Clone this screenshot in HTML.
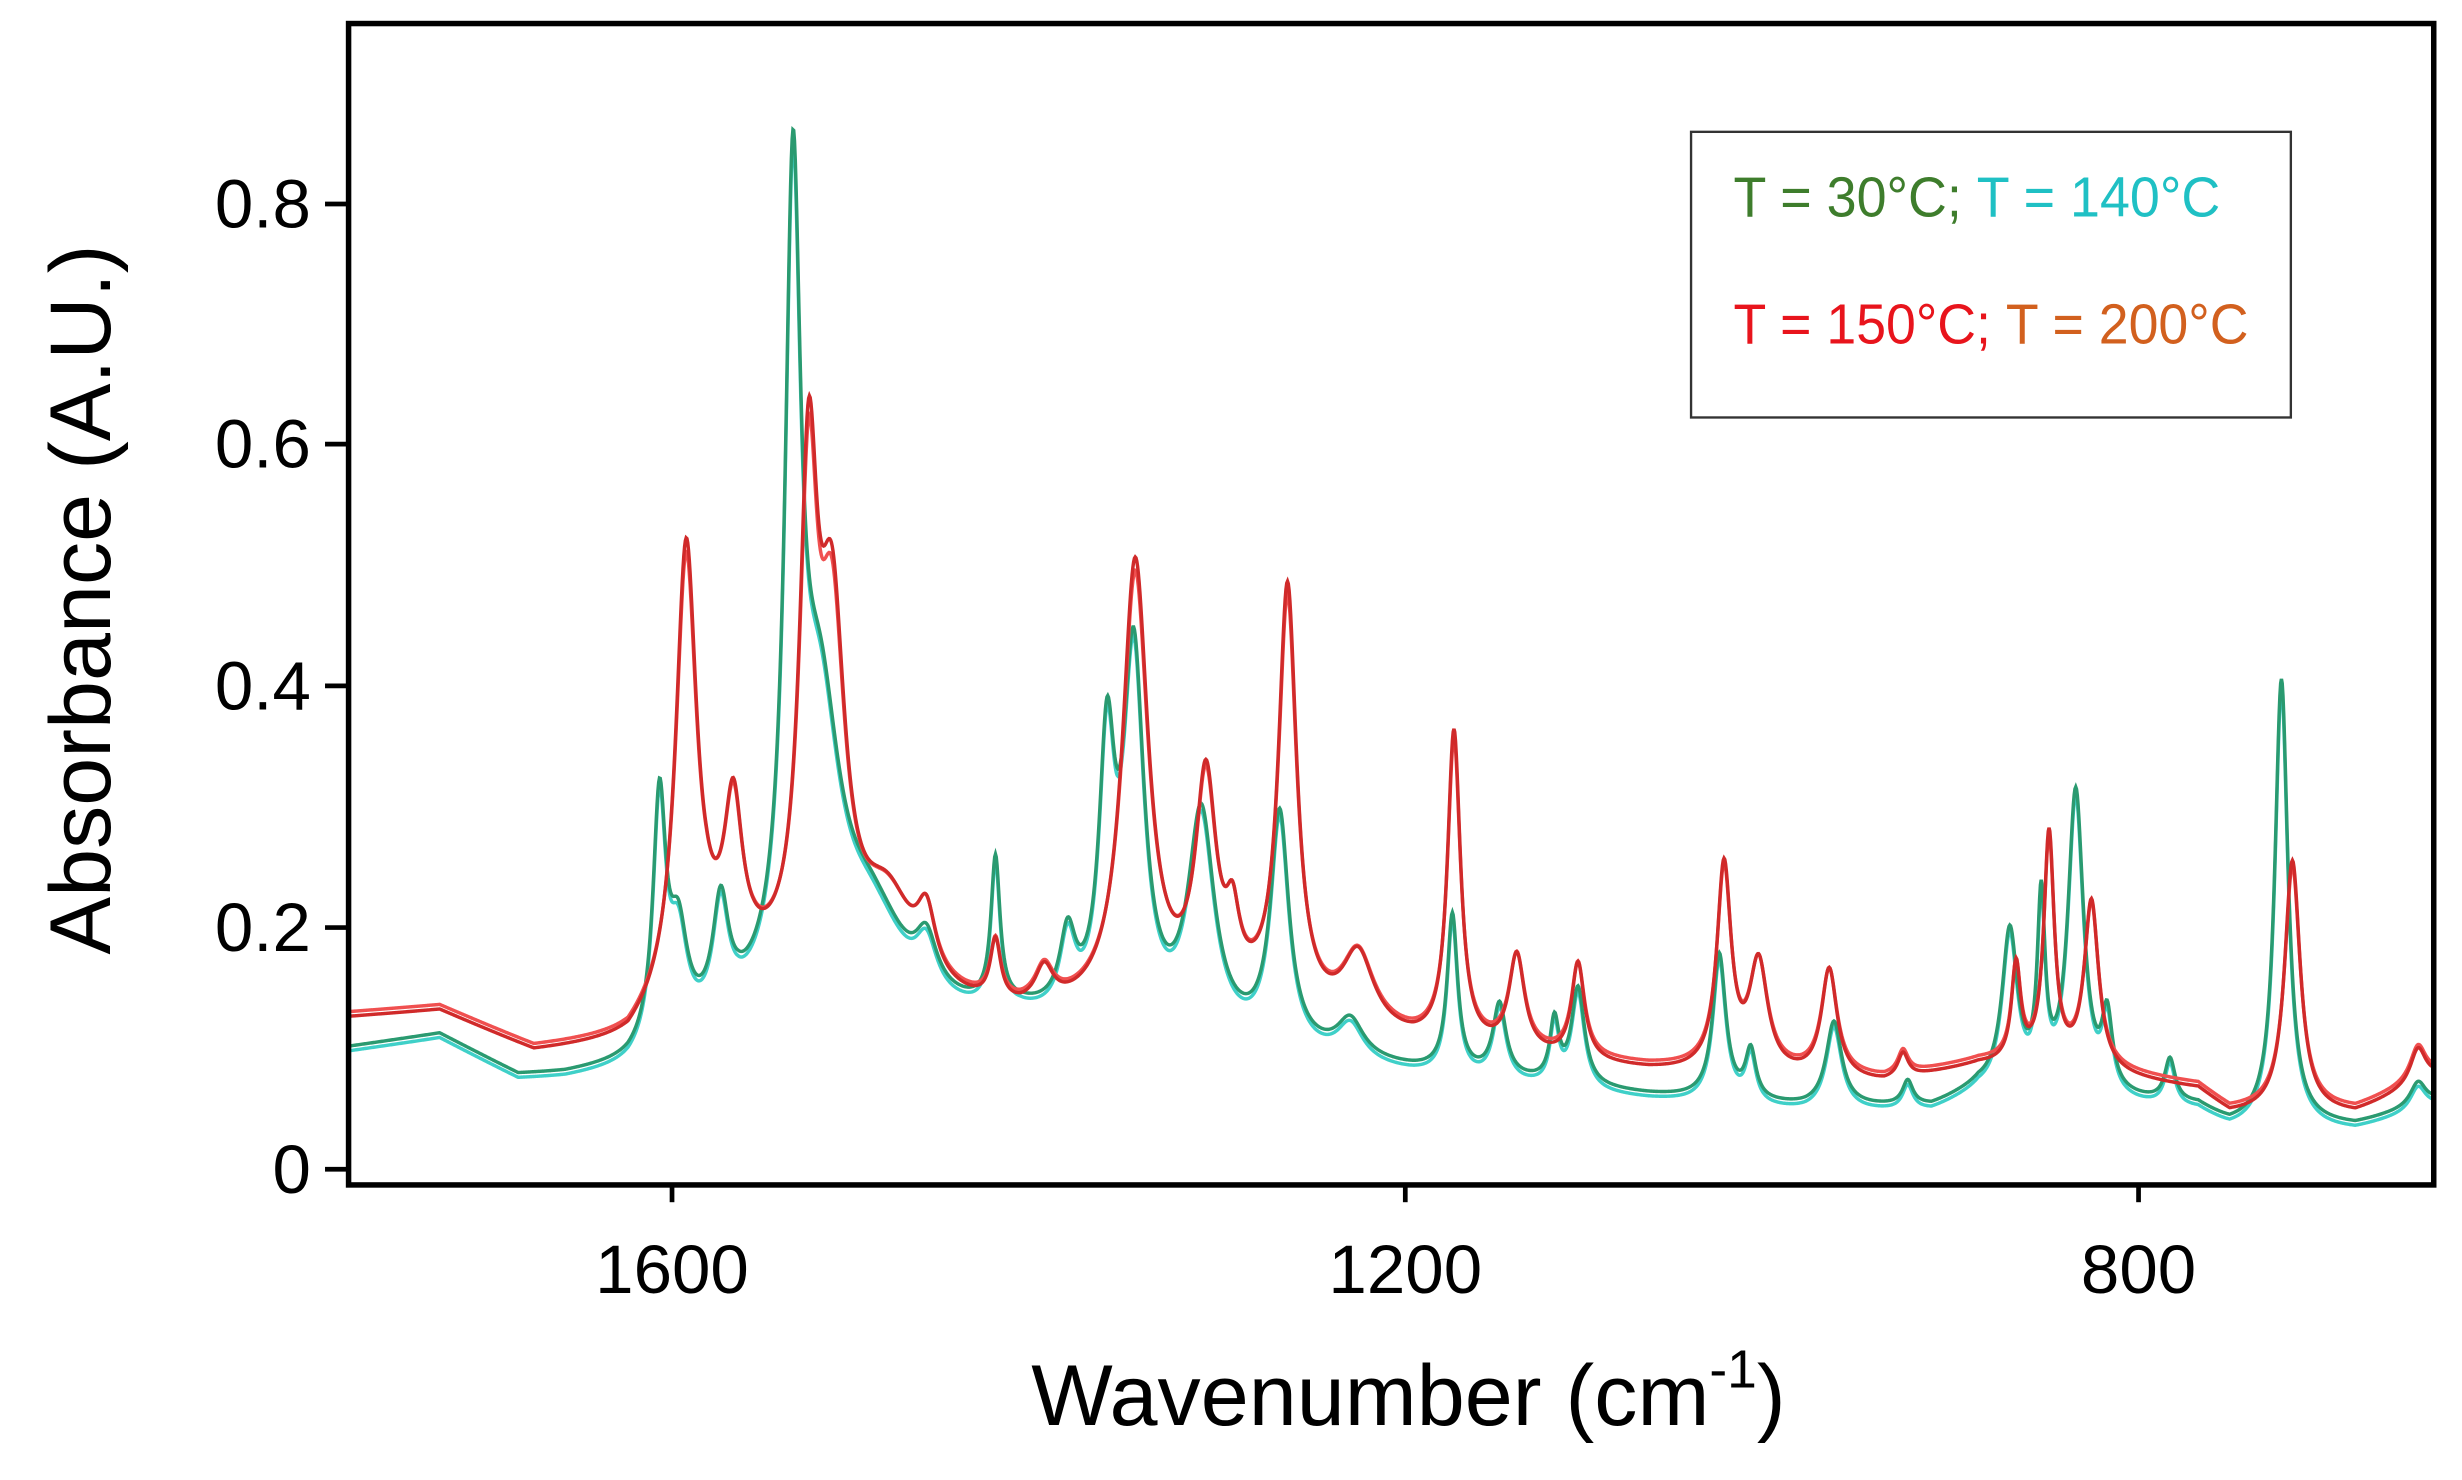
<!DOCTYPE html>
<html><head><meta charset="utf-8"><style>
html,body{margin:0;padding:0;background:#fff;}
svg{display:block;}
</style></head><body>
<svg id="s" width="2462" height="1480" viewBox="0 0 1568 943" preserveAspectRatio="none" xmlns="http://www.w3.org/2000/svg">
<defs><clipPath id="c"><rect x="222" y="15" width="1328" height="740"/></clipPath></defs>
<rect x="0" y="0" width="1568" height="943" fill="#fff"/>
<g id="curves" clip-path="url(#c)" fill="none" stroke-width="2.2"></g>
<rect x="222" y="15" width="1328" height="740" fill="none" stroke="#000" stroke-width="3.5"/>
<g stroke="#000" stroke-width="3">
<line x1="207" y1="745" x2="222" y2="745"/><line x1="207" y1="591" x2="222" y2="591"/>
<line x1="207" y1="437" x2="222" y2="437"/><line x1="207" y1="283" x2="222" y2="283"/>
<line x1="207" y1="130" x2="222" y2="130"/>
<line x1="428" y1="755" x2="428" y2="766"/><line x1="895" y1="755" x2="895" y2="766"/>
<line x1="1362" y1="755" x2="1362" y2="766"/>
</g>
<g font-family="Liberation Sans, sans-serif" font-size="44" fill="#000" text-anchor="end">
<text x="198" y="760">0</text><text x="198" y="606">0.2</text><text x="198" y="452">0.4</text>
<text x="198" y="298">0.6</text><text x="198" y="145">0.8</text>
</g>
<g font-family="Liberation Sans, sans-serif" font-size="44" fill="#000" text-anchor="middle">
<text x="428" y="824">1600</text><text x="895" y="824">1200</text><text x="1362" y="824">800</text>
</g>
<text x="897" y="908" font-family="Liberation Sans, sans-serif" font-size="55" text-anchor="middle">Wavenumber (cm<tspan dy="-24" font-size="34">-1</tspan><tspan dy="24">)</tspan></text>
<text transform="translate(70,382) rotate(-90)" font-family="Liberation Sans, sans-serif" font-size="55" text-anchor="middle">Absorbance (A.U.)</text>
<rect x="1077" y="84" width="382" height="182" fill="#fff" stroke="#333" stroke-width="1.5"/>
<g font-family="Liberation Sans Narrow, Liberation Sans, sans-serif" font-size="36">
<text x="1104" y="138" textLength="310" lengthAdjust="spacingAndGlyphs"><tspan fill="#3e7d2c">T = 30°C; </tspan><tspan fill="#1fc0c4">T = 140°C</tspan></text>
<text x="1104" y="219" textLength="328" lengthAdjust="spacingAndGlyphs"><tspan fill="#e8141c">T = 150°C; </tspan><tspan fill="#d2601e">T = 200°C</tspan></text>
</g>
</svg>
<script>
var Y=function(a){return 745-a*768.75;};
function lin(pts,x){for(var i=0;i<pts.length-1;i++){if(x<=pts[i+1][0]){var t=(x-pts[i][0])/(pts[i+1][0]-pts[i][0]);return pts[i][1]+t*(pts[i+1][1]-pts[i][1]);}}return pts[pts.length-1][1];}
var gB=[[222,0.10],[280,0.11],[330,0.075],[360,0.075],[400,0.08],[410,0.085],[470,0.11],[560,0.11],[650,0.12],[790,0.10],[900,0.08],[1050,0.06],[1150,0.05],[1230,0.05],[1260,0.065],[1300,0.06],[1400,0.05],[1420,0.035],[1500,0.035],[1550,0.055]];
var gP=[[420,0.2,5],[432,0.08,7],[459,0.09,6],[505,0.62,6],[522,0.23,16],[555,0.08,28],[590,0.04,8],[634,0.12,3.5],[680,0.06,6],[705,0.21,6],[722,0.3,8],[765,0.18,10],[815,0.19,7],[860,0.03,10],[925,0.13,4],[955,0.06,5],[990,0.05,3.5],[1005,0.08,5],[1095,0.12,5],[1115,0.04,4],[1168,0.07,6],[1215,0.02,4],[1280,0.13,6],[1300,0.15,3],[1322,0.25,6],[1342,0.06,4],[1382,0.035,4],[1453,0.37,5],[1540,0.02,6]];
var rB=[[222,0.125],[280,0.13],[340,0.095],[400,0.1],[410,0.11],[450,0.15],[480,0.15],[560,0.13],[650,0.12],[790,0.13],[900,0.1],[1050,0.08],[1200,0.07],[1260,0.085],[1300,0.085],[1400,0.065],[1420,0.045],[1500,0.045],[1550,0.075]];
var rP=[[437,0.37,8],[467,0.13,7],[515,0.39,7],[530,0.28,10],[565,0.08,22],[590,0.05,7],[634,0.05,4],[665,0.03,7],[723,0.37,10],[768,0.18,8],[785,0.05,5],[820,0.35,7],[865,0.06,12],[926,0.26,5],[966,0.08,6],[1005,0.08,5],[1098,0.17,5.5],[1120,0.09,7],[1165,0.09,6],[1212,0.02,4],[1284,0.08,3.5],[1305,0.19,4],[1332,0.14,5.5],[1460,0.21,6],[1540,0.03,6]];
function path(B,P,dy,k){var d="";for(var x=222;x<=1550;x+=0.5){var v=lin(B,x);for(var i=0;i<P.length;i++){var u=(x-P[i][0])/P[i][2];v+=P[i][1]*k/(1+u*u);}d+=(x==222?"M":"L")+x+","+(Y(v)+dy).toFixed(2);}return d;}
var g=document.getElementById("curves"),ns="http://www.w3.org/2000/svg";
function add(d,c){var p=document.createElementNS(ns,"path");p.setAttribute("d",d);p.setAttribute("stroke",c);g.appendChild(p);}
add(path(gB,gP,3,0.99),"#3fd0c8");
add(path(gB,gP,0,1),"#2a9a70");
add(path(rB,rP,-3,0.96),"#f05050");
add(path(rB,rP,0,1),"#d02a2a");
</script>
</body></html>
